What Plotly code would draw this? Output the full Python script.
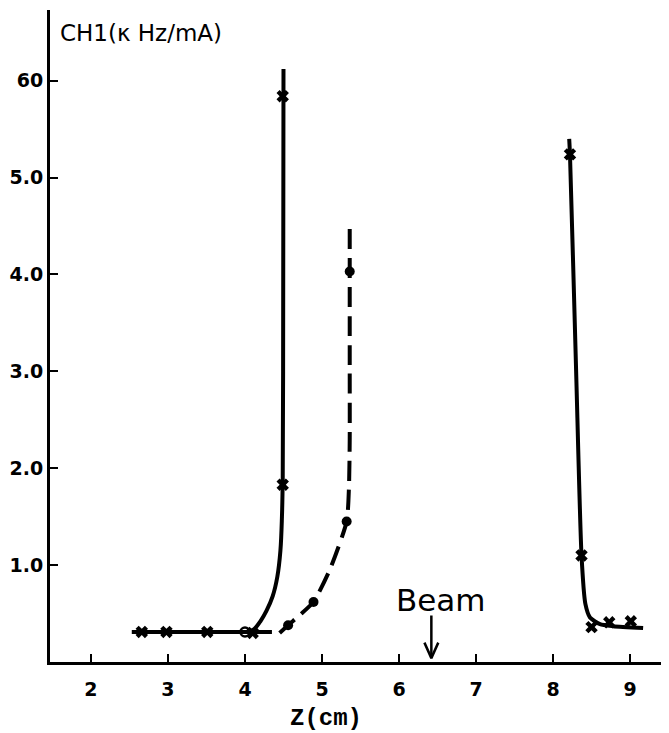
import plotly.graph_objects as go

# ---- data ----
# left solid curve (crosses)
left_z = [2.66, 2.98, 3.51, 4.10, 4.49, 4.49]
left_ch1 = [0.31, 0.31, 0.31, 0.30, 1.83, 5.84]
left_flat_z = [2.53, 4.35]
left_flat_ch1 = [0.31, 0.31]
left_curve_z = [4.05, 4.12, 4.20, 4.28, 4.36, 4.42, 4.46, 4.48, 4.49, 4.495, 4.50]
left_curve_ch1 = [0.31, 0.34, 0.42, 0.53, 0.68, 0.88, 1.15, 1.50, 1.90, 3.00, 6.12]

# middle dashed curve (dots)
mid_z = [4.56, 4.89, 5.32, 5.36]
mid_ch1 = [0.38, 0.62, 1.45, 4.03]
mid_open_z = [4.00]
mid_open_ch1 = [0.31]
mid_curve_z = [4.45, 4.56, 4.72, 4.89, 5.10, 5.32, 5.35, 5.36, 5.36, 5.36]
mid_curve_ch1 = [0.30, 0.38, 0.49, 0.62, 0.95, 1.45, 1.80, 2.30, 3.00, 4.51]

# right solid curve (crosses)
right_z = [8.22, 8.37, 8.50, 8.73, 9.01]
right_ch1 = [5.24, 1.10, 0.36, 0.41, 0.42]
right_curve_z = [8.21, 8.22, 8.30, 8.37, 8.42, 8.48, 8.61, 8.78, 9.17]
right_curve_ch1 = [5.40, 5.24, 3.00, 1.10, 0.60, 0.46, 0.39, 0.37, 0.35]

beam_z = 6.42
beam_arrow_top = 0.48
beam_arrow_tip = 0.04

x_ticks = [2, 3, 4, 5, 6, 7, 8, 9]
x_ticktext = ["2", "3", "4", "5", "6", "7", "8", "9"]
y_ticks = [1, 2, 3, 4, 5, 6]
y_ticktext = ["1.0", "2.0", "3.0", "4.0", "5.0", "60"]

BLACK = "black"
fig = go.Figure()

fig.add_trace(go.Scatter(x=left_flat_z, y=left_flat_ch1, mode="lines",
                         line=dict(color=BLACK, width=4), showlegend=False))
fig.add_trace(go.Scatter(x=left_curve_z, y=left_curve_ch1, mode="lines",
                         line=dict(color=BLACK, width=4, shape="spline", smoothing=1.0),
                         showlegend=False))
fig.add_trace(go.Scatter(x=left_z, y=left_ch1, mode="markers",
                         marker=dict(symbol="x", size=11, color=BLACK), showlegend=False))

fig.add_trace(go.Scatter(x=mid_curve_z, y=mid_curve_ch1, mode="lines",
                         line=dict(color=BLACK, width=4, dash="20px,9px",
                                   shape="spline", smoothing=0.6),
                         showlegend=False))
fig.add_trace(go.Scatter(x=mid_z, y=mid_ch1, mode="markers",
                         marker=dict(symbol="circle", size=10, color=BLACK), showlegend=False))
fig.add_trace(go.Scatter(x=mid_open_z, y=mid_open_ch1, mode="markers",
                         marker=dict(symbol="circle-open", size=9, color=BLACK,
                                     line=dict(width=2.5, color=BLACK)), showlegend=False))

fig.add_trace(go.Scatter(x=right_curve_z, y=right_curve_ch1, mode="lines",
                         line=dict(color=BLACK, width=4, shape="spline", smoothing=0.6),
                         showlegend=False))
fig.add_trace(go.Scatter(x=right_z, y=right_ch1, mode="markers",
                         marker=dict(symbol="x", size=11, color=BLACK), showlegend=False))

# Beam arrow (shaft + open V head)
fig.add_trace(go.Scatter(x=[beam_z, beam_z], y=[beam_arrow_top, beam_arrow_tip], mode="lines",
                         line=dict(color=BLACK, width=2.5), showlegend=False))
fig.add_trace(go.Scatter(x=[beam_z - 0.09, beam_z, beam_z + 0.09],
                         y=[beam_arrow_tip + 0.16, beam_arrow_tip, beam_arrow_tip + 0.16],
                         mode="lines", line=dict(color=BLACK, width=2.5), showlegend=False))

tick_font = dict(family="DejaVu Sans", size=19, color=BLACK, weight="bold")

# page body has an 8px margin, so the figure is 8px smaller than the window
fig.update_layout(
    width=661, height=725,
    margin=dict(l=42, r=0, t=2, b=71),
    paper_bgcolor="white", plot_bgcolor="white",
    xaxis=dict(range=[1.468, 9.506], tickvals=x_ticks, ticktext=x_ticktext,
               showgrid=False, zeroline=False, showline=True, linewidth=3, linecolor=BLACK,
               ticks="inside", ticklen=8, tickwidth=2, tickcolor=BLACK,
               tickfont=tick_font, ticklabelstandoff=8),
    yaxis=dict(range=[0, 6.73], tickvals=y_ticks, ticktext=y_ticktext,
               showgrid=False, zeroline=False, showline=True, linewidth=3, linecolor=BLACK,
               ticks="inside", ticklen=8, tickwidth=2, tickcolor=BLACK,
               tickfont=tick_font, ticklabelstandoff=0),
    annotations=[
        dict(text="CH1(κ Hz/mA)", xref="paper", yref="paper", x=0.013, y=0.965,
             xanchor="left", yanchor="middle", showarrow=False,
             font=dict(family="DejaVu Sans", size=23, color=BLACK)),
        dict(text="Z(cm)", xref="x", yref="paper", x=5.05, y=-0.086,
             xanchor="center", yanchor="middle", showarrow=False,
             font=dict(family="Liberation Mono", size=24, color=BLACK, weight="bold")),
        dict(text="Beam", xref="x", yref="y", x=6.55, y=0.64,
             xanchor="center", yanchor="middle", showarrow=False,
             font=dict(family="DejaVu Sans", size=31, color=BLACK)),
    ],
)

fig.write_html("out.html")
